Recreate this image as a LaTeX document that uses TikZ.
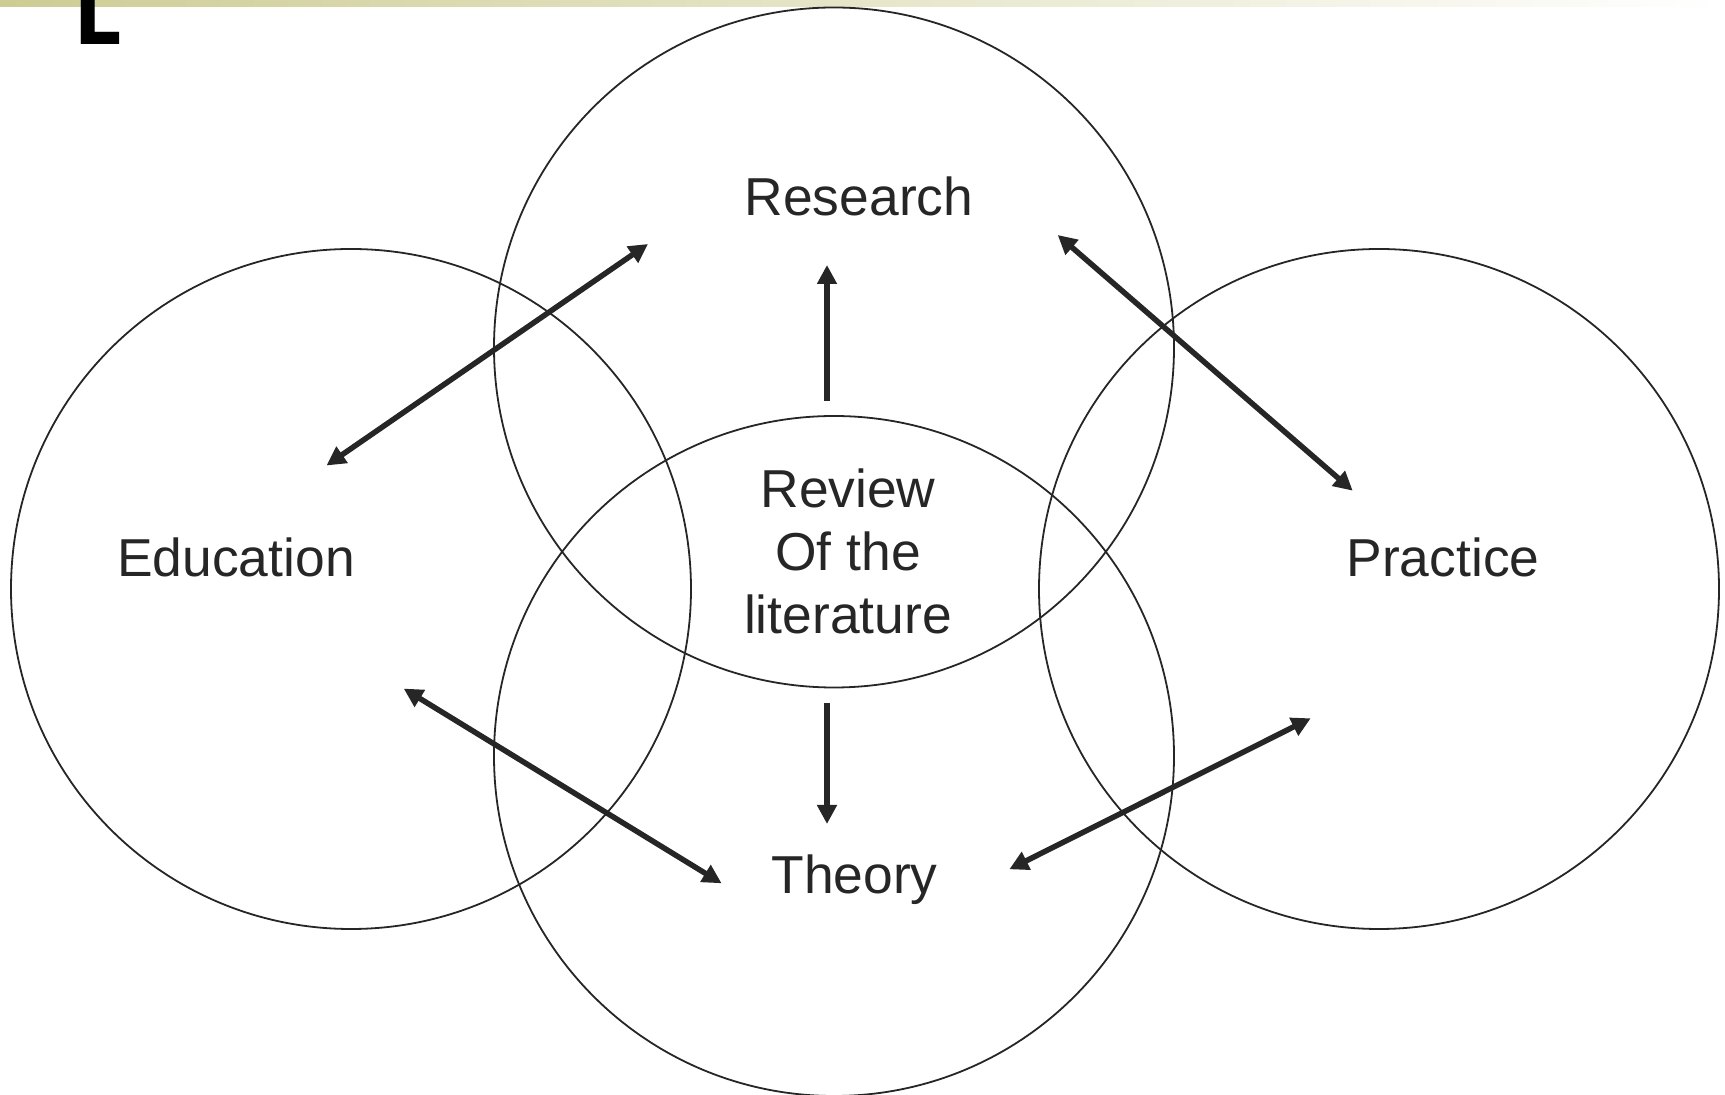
\documentclass[tikz,border=0pt]{standalone}
\usepackage{fontspec}
\setmainfont{Liberation Sans}
\newfontfamily\headfont{DejaVu Sans}
\usetikzlibrary{arrows.meta}
\definecolor{ink}{RGB}{38,38,38}
\definecolor{barolive}{RGB}{206,204,148}

\begin{document}
\begin{tikzpicture}[x=0.5pt,y=-0.5pt,
  ring/.style={circle, draw=ink, line width=0.9pt, minimum size=340pt, inner sep=0pt},
  lbl/.style={text=ink, font=\fontsize{26.7}{31}\selectfont, inner sep=0pt, anchor=base},
  link/.style={draw=ink, line width=2.75pt, {Triangle[length=9.5pt,width=9.5pt]}-{Triangle[length=9.5pt,width=9.5pt]}},
  oneway/.style={draw=ink, line width=2.75pt, -{Triangle[length=9.5pt,width=9.5pt]}}]
  \useasboundingbox (0,0) rectangle (1725,1095);

  % header bar and the cut-off title letter
  \fill[left color=barolive, right color=white] (0,0) rectangle (1725,7);
  \node[font=\headfont\bfseries\fontsize{43}{43}\selectfont, xscale=0.86,
        anchor=base west, inner sep=0pt, text=black] (initial) at (74,45) {L};

  % the four overlapping fields
  \node[ring] (edu) at (351,589) {};
  \node[ring] (res) at (834,347.5) {};
  \node[ring] (pra) at (1379,589) {};
  \node[ring] (the) at (834,756) {};

  % labels
  \node[lbl] (tres) at (859,216) {Research};
  \node[lbl] (tedu) at (236,576.7) {Education};
  \node[lbl] (tpra) at (1443,576.7) {Practice};
  \node[lbl] (tthe) at (854.5,893.3) {Theory};
  \node[text=ink, font=\fontsize{26.7}{31.5}\selectfont, inner sep=0pt, align=center]
       (trev) at (848,551) {Review\\Of the\\literature};

  % arrow end points
  \coordinate (e1) at (326.5,465.5);
  \coordinate (r1) at (648,244);
  \coordinate (r2) at (1057.7,235);
  \coordinate (p1) at (1352.7,490.7);
  \coordinate (m1) at (827,401);
  \coordinate (r3) at (827,265);
  \coordinate (m2) at (827,703);
  \coordinate (t1) at (827,824);
  \coordinate (e2) at (403.7,688.6);
  \coordinate (t2) at (721.6,883.3);
  \coordinate (t3) at (1009.3,869.3);
  \coordinate (p2) at (1310.7,718.3);

  % connectors
  \draw[link] (e1) -- (r1);
  \draw[link] (r2) -- (p1);
  \draw[oneway] (m1) -- (r3);
  \draw[oneway] (m2) -- (t1);
  \draw[link] (e2) -- (t2);
  \draw[link] (t3) -- (p2);
\end{tikzpicture}
\end{document}
